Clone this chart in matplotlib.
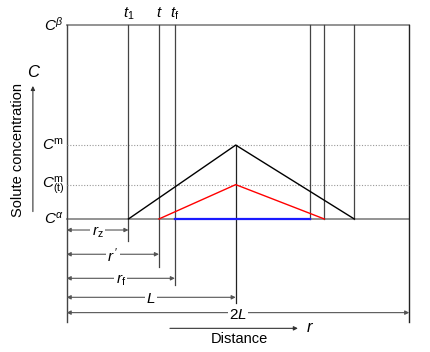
import matplotlib
matplotlib.use("Agg")
import matplotlib.pyplot as plt

plt.rcParams['font.family'] = ['Liberation Sans', 'DejaVu Sans']
plt.rcParams['mathtext.fontset'] = 'custom'
plt.rcParams['mathtext.rm'] = 'Liberation Sans'
plt.rcParams['mathtext.it'] = 'Liberation Sans:style=italic'

# distances along r, in units of L
r_left, r_right = 0.0, 2.0
r_times_left = [0.361, 0.539, 0.632]      # t1, t, tf
r_times_right = [1.420, 1.504, 1.679]
r_centre = 0.987
time_labels = ['$t_{1}$', '$t$', '$t_{\\mathrm{f}}$']

# concentration levels
c_alpha, c_beta = 0.0, 1.0
c_m, c_tm = 0.381, 0.177
level_labels = ['$C^{\\beta}$', '$C^{\\mathrm{m}}$', '$C^{\\mathrm{m}}_{(\\mathrm{t})}$', '$C^{\\alpha}$']
level_values = [c_beta, c_m, c_tm, c_alpha]

# profiles (r, c)
black_r = [r_times_left[0], r_centre, r_times_right[2]]
black_c = [c_alpha, c_m, c_alpha]
red_r = [r_times_left[1], r_centre, r_times_right[1]]
red_c = [c_alpha, c_tm, c_alpha]
blue_r = [r_times_left[2], r_times_right[0]]
blue_c = [c_alpha, c_alpha]

# dimension lines below the plot
dim_labels = ['$r_{\\mathrm{z}}$', "$r^{\\,\\prime}$", '$r_{\\mathrm{f}}$', '$L$', '$2L$']
dim_ends = [r_times_left[0], r_times_left[1], r_times_left[2], r_centre, r_right]
dim_levels = [-0.057, -0.182, -0.306, -0.404, -0.483]
ext_ends = [-0.113, -0.246, -0.340, -0.433, -0.529]

fig = plt.figure(figsize=(4.31, 3.52), dpi=100)
ax = fig.add_axes([0, 0, 1, 1])
ax.set_xlim(-0.389, 2.127)
ax.set_ylim(-0.686, 1.129)
ax.axis('off')

grey = '#8a8a8a'
dark = '#444444'

# frame
ax.plot([r_left, r_right], [c_beta, c_beta], color=grey, lw=1.3)
ax.plot([r_left, r_right], [c_alpha, c_alpha], color=grey, lw=1.3)
ax.plot([r_left, r_left], [ext_ends[4], c_beta], color=dark, lw=1.0)
ax.plot([r_right, r_right], [ext_ends[4], c_beta], color='#222222', lw=1.0)

# dotted levels
for c in [c_m, c_tm]:
    ax.plot([r_left, r_right], [c, c], color='#999999', lw=0.8, ls=(0, (1, 1.5)))

# time lines
for r, lab, e in zip(r_times_left, time_labels, ext_ends[:3]):
    ax.plot([r, r], [e, c_beta], color=dark, lw=0.9)
    ax.text(r, 1.06, lab, ha='center', va='center', fontsize=11)
for r in r_times_right:
    ax.plot([r, r], [c_alpha, c_beta], color=dark, lw=0.9)
ax.plot([r_centre, r_centre], [ext_ends[3], c_m], color='#222222', lw=0.9)

# profiles
ax.plot(black_r, black_c, color='black', lw=1.0)
ax.plot(red_r, red_c, color='red', lw=1.0)
ax.plot(blue_r, blue_c, color='#1a1aff', lw=1.6)

# level labels
for lab, c in zip(level_labels, level_values):
    ax.text(-0.015, c, lab, ha='right', va='center', fontsize=11)

# dimension arrows
for lab, end, y in zip(dim_labels, dim_ends, dim_levels):
    ax.annotate('', xy=(end, y), xytext=(r_left, y),
                arrowprops=dict(arrowstyle='<|-|>', color='#555555', lw=0.8,
                                mutation_scale=6, shrinkA=0, shrinkB=0))
    ax.text((r_left + end) / 2, y - 0.01, lab, ha='center', va='center', fontsize=11,
            bbox=dict(facecolor='white', edgecolor='none', pad=1))

# distance arrow
ax.annotate('', xy=(1.35, -0.564), xytext=(0.603, -0.564),
            arrowprops=dict(arrowstyle='-|>', color='#333333', lw=0.8,
                            mutation_scale=6, shrinkA=0, shrinkB=0))
ax.text(1.42, -0.560, '$r$', ha='center', va='center', fontsize=12)
ax.text(1.01, -0.62, 'Distance', ha='center', va='center', fontsize=10.5)

# concentration arrow
ax.annotate('', xy=(-0.197, 0.686), xytext=(-0.197, 0.038),
            arrowprops=dict(arrowstyle='-|>', color='#333333', lw=0.8,
                            mutation_scale=6, shrinkA=0, shrinkB=0))
ax.text(-0.19, 0.76, '$C$', ha='center', va='center', fontsize=12)
ax.text(-0.284, 0.356, 'Solute concentration', ha='center', va='center',
        rotation=90, fontsize=10.5)

fig.savefig('out.png', dpi=100)
